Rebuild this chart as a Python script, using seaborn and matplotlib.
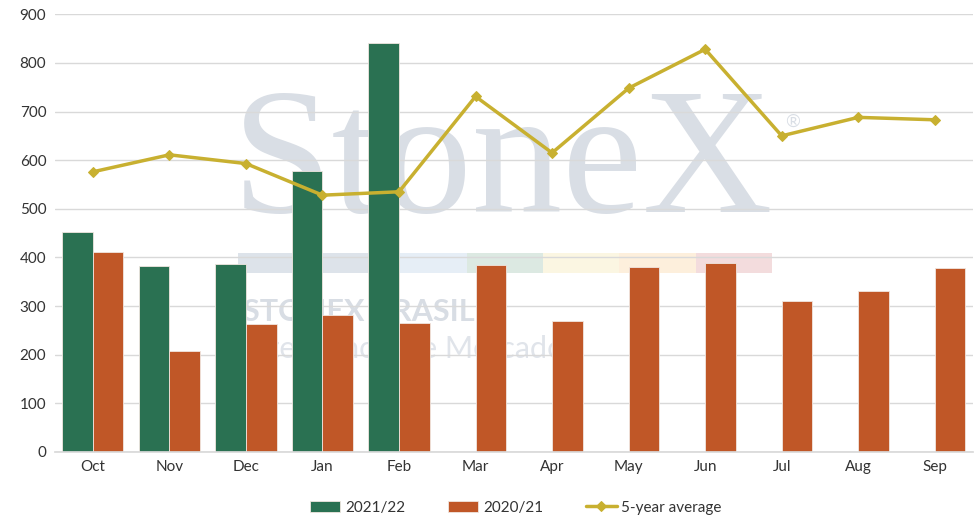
import numpy as np
import pandas as pd
import matplotlib.pyplot as plt
import seaborn as sns

months = ["Oct", "Nov", "Dec", "Jan", "Feb", "Mar", "Apr", "May", "Jun", "Jul", "Aug", "Sep"]
season_2122 = [452, 382, 386, 578, 840, np.nan, np.nan, np.nan, np.nan, np.nan, np.nan, np.nan]
season_2021 = [411, 208, 264, 282, 266, 384, 270, 381, 388, 310, 331, 378]
five_year_avg = [576, 611, 593, 528, 535, 731, 615, 748, 828, 650, 688, 683]

GREEN = "#2a7152"
ORANGE = "#c05727"
GOLD = "#c8b030"

sns.set_theme(style="white")
plt.rcParams["font.family"] = ["Lato", "DejaVu Sans"]

bars = pd.DataFrame({
    "month": months * 2,
    "value": season_2122 + season_2021,
    "season": ["2021/22"] * 12 + ["2020/21"] * 12,
})

fig, ax = plt.subplots(figsize=(9.75, 5.28), dpi=100)
fig.subplots_adjust(left=0.056, right=0.998, top=0.973, bottom=0.144)

# watermark (logo behind the data)
ax.text(0.488, 0.648, "StoneX", transform=ax.transAxes, ha="center", va="center",
        fontsize=130, family="Liberation Serif", color="#d9dee5", zorder=0)
ax.text(0.803, 0.755, "®", transform=ax.transAxes, ha="center", va="center",
        fontsize=13, color="#d9dee5", zorder=0)
ax.text(0.205, 0.32, "STONEX BRASIL", transform=ax.transAxes, ha="left", va="center",
        fontsize=22, fontweight="bold", color="#d8dde4", zorder=0)
ax.text(0.205, 0.235, "Inteligência de Mercado", transform=ax.transAxes, ha="left", va="center",
        fontsize=22, color="#e0e4ea", zorder=0)
strip_colors = ["#dde3ea", "#dde3ea", "#e6eef6", "#dce9e2", "#fbf6e2", "#fdefdc", "#f3dcdd"]
for i, c in enumerate(strip_colors):
    ax.axhspan(367, 409, xmin=0.2 + i * 0.083, xmax=0.2 + (i + 1) * 0.083,
               color=c, zorder=0, lw=0)

sns.barplot(data=bars, x="month", y="value", hue="season", order=months,
            hue_order=["2021/22", "2020/21"], palette=[GREEN, ORANGE],
            width=0.8, edgecolor="#f0e6e0", linewidth=0.6, saturation=1,
            ax=ax, zorder=2)

sns.lineplot(x=np.arange(len(months)), y=five_year_avg, color=GOLD, linewidth=2.5,
             marker="D", markersize=5, markeredgecolor=GOLD, label="5-year average",
             ax=ax, zorder=3)

ax.set_ylim(0, 900)
ax.set_xlim(-0.5, len(months) - 0.5)
ax.set_yticks(range(0, 901, 100))
ax.yaxis.grid(True, color="#d9d9d9", linewidth=1)
ax.set_axisbelow(True)
ax.set_xlabel("")
ax.set_ylabel("")
for s in ["top", "right", "left"]:
    ax.spines[s].set_visible(False)
ax.spines["bottom"].set_color("#d9d9d9")
ax.tick_params(axis="both", labelsize=11, colors="#333333", length=0, pad=6)
ax.set_xticks(np.arange(-0.5, len(months), 1.0), minor=True)
ax.tick_params(axis="x", which="minor", length=5, color="#d9d9d9", width=1)

handles, labels = ax.get_legend_handles_labels()
ax.legend(handles, labels, loc="upper center", bbox_to_anchor=(0.502, -0.08),
          ncol=3, frameon=False, fontsize=11, handlelength=2.0,
          columnspacing=2.8, handletextpad=0.3, labelcolor="#333333")

fig.savefig("out.png", dpi=100)
